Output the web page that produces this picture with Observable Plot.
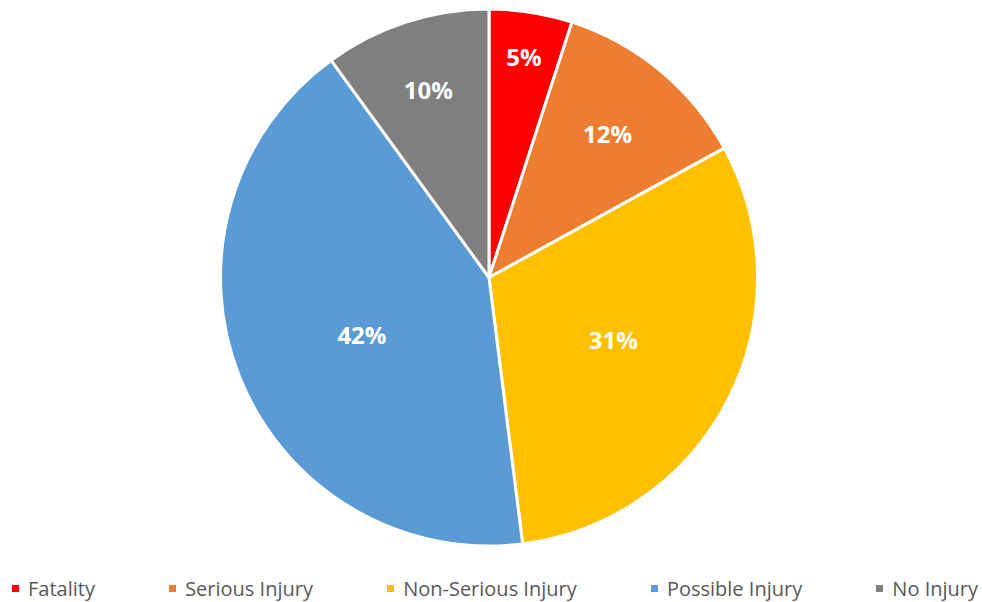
<!DOCTYPE html>
<html>
<head>
<meta charset="utf-8">
<script src="https://cdn.jsdelivr.net/npm/d3@7"></script>
<script src="https://cdn.jsdelivr.net/npm/@observablehq/plot@0.6"></script>
<style>
  html, body { margin: 0; padding: 0; background: #fff; }
  #chart { width: 982px; }
  .legend { display: flex; justify-content: space-between; align-items: center;
    height: 40px; padding: 0 4px 0 12px; box-sizing: border-box; width: 982px;
    font-family: "Open Sans", sans-serif; font-size: 20px; color: #595959; }
  .legend .item { display: flex; align-items: center; white-space: nowrap; }
  .legend .sw { width: 7px; height: 7px; margin-right: 9px; display: inline-block; }
</style>
</head>
<body>
<div id="chart"></div>
<script>
const categories = ["Fatality", "Serious Injury", "Non-Serious Injury", "Possible Injury", "No Injury"];
const shares = [5, 12, 31, 42, 10];
const labels = ["5%", "12%", "31%", "42%", "10%"];
const colors = ["#FF0000", "#ED7D31", "#FFC000", "#5B9BD5", "#7F7F7F"];

const data = categories.map((c, i) => ({category: c, value: shares[i], label: labels[i]}));
const W = 982, H = 568;
const color = Plot.scale({color: {domain: categories, range: colors}});

function pieMark(index, scales, values, dimensions) {
  const cx = 489, cy = 277.5, r = 268.5;
  const pie = d3.pie().sort(null).value(d => d.value)(data);
  const arc = d3.arc().innerRadius(0).outerRadius(r);
  const g = d3.create("svg:g").attr("transform", `translate(${cx},${cy})`);
  g.selectAll("path").data(pie).join("path")
    .attr("d", arc)
    .attr("fill", d => color.apply(d.data.category))
    .attr("stroke", "#fff")
    .attr("stroke-width", 3)
    .attr("stroke-linejoin", "round");
  g.selectAll("text").data(pie).join("text")
    .attr("transform", d => {
      const deg = (d.endAngle - d.startAngle) * 180 / Math.PI;
      const ratio = Math.max(0.52, 0.93 - 0.0055 * deg);
      const a = (d.startAngle + d.endAngle) / 2 - (deg > 140 ? 0.05 : 0);
      const rr = r * ratio;
      return `translate(${rr * Math.sin(a)},${-rr * Math.cos(a)})`;
    })
    .attr("text-anchor", "middle")
    .attr("dy", "0.35em")
    .attr("fill", "#fff")
    .attr("font-family", "'Open Sans', sans-serif")
    .attr("font-weight", "bold")
    .attr("font-size", 24)
    .text(d => d.data.label);
  return g.node();
}

const plot = Plot.plot({
  width: W,
  height: H,
  margin: 0,
  x: {axis: null, domain: [0, W]},
  y: {axis: null, domain: [0, H]},
  marks: [pieMark]
});
document.getElementById("chart").appendChild(plot);

const legend = document.createElement("div");
legend.className = "legend";
categories.forEach((c) => {
  const it = document.createElement("div");
  it.className = "item";
  const sw = document.createElement("span");
  sw.className = "sw";
  sw.style.background = color.apply(c);
  it.appendChild(sw);
  it.appendChild(document.createTextNode(c));
  legend.appendChild(it);
});
document.getElementById("chart").appendChild(legend);
</script>
</body>
</html>
